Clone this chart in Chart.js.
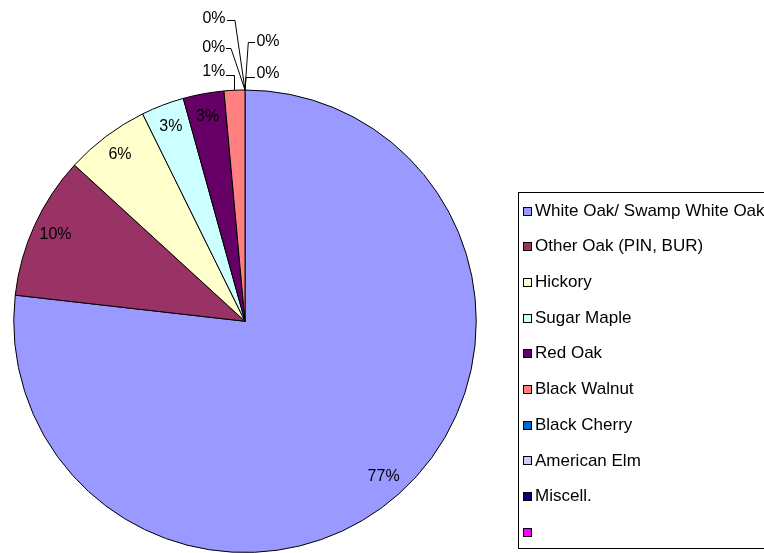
<!DOCTYPE html>
<html>
<head>
<meta charset="utf-8">
<script src="https://cdn.jsdelivr.net/npm/chart.js@4/dist/chart.umd.min.js"></script>
<style>
  body { margin: 0; background: #fff; }
  canvas { display: block; }
</style>
</head>
<body>
<canvas id="tree_chart" width="764" height="553"></canvas>
<script>
// species and their share of the count (%)
const species = [
  "White Oak/ Swamp White Oak",
  "Other Oak (PIN, BUR)",
  "Hickory",
  "Sugar Maple",
  "Red Oak",
  "Black Walnut",
  "Black Cherry",
  "American Elm",
  "Miscell.",
  ""
];
const shares = [76.8, 10.0, 5.9, 3.0, 2.85, 1.45, 0, 0, 0, 0];
const colors = ["#9999FF", "#993366", "#FFFFCC", "#CCFFFF", "#660066", "#FF8080", "#0066CC", "#CCCCFF", "#000080", "#FF00FF"];

// where the small labels sit, relative to the edge of their slice (tx/ty text centre, ex/ey elbow)
const leaderSpots = [
  null, null, null, null, null,
  { tx: -20.7, ty: -18.5, ex: 0, ey: -15.5 },
  { tx: 23, ty: -16.5, ex: 1, ey: -13.5 },
  { tx: 23, ty: -48.5, ex: 3.3, ey: -48.3 },
  { tx: -31.3, ty: -42, ex: -14, ey: -41.7 },
  { tx: -31, ty: -71.5, ex: -10, ey: -70 }
];

const fontFamily = "'Liberation Sans', Arial, sans-serif";

const percentLabels = {
  id: "percentLabels",
  afterDatasetsDraw(chart) {
    const ctx = chart.ctx;
    const meta = chart.getDatasetMeta(0);
    const total = shares.reduce((a, b) => a + b, 0);
    ctx.save();
    ctx.font = "16px " + fontFamily;
    ctx.fillStyle = "#000";
    ctx.strokeStyle = "#000";
    ctx.lineWidth = 1;
    ctx.textBaseline = "middle";
    ctx.textAlign = "center";
    meta.data.forEach((arc, i) => {
      const p = arc.getProps(["x", "y", "startAngle", "endAngle", "outerRadius"], true);
      const mid = (p.startAngle + p.endAngle) / 2;
      const text = Math.round((shares[i] / total) * 100) + "%";
      const spot = leaderSpots[i];
      if (!spot) {
        const r = p.outerRadius * 0.9;
        ctx.fillText(text, p.x + r * Math.cos(mid), p.y + r * Math.sin(mid));
        return;
      }
      const ax = p.x + p.outerRadius * Math.cos(mid);
      const ay = p.y + p.outerRadius * Math.sin(mid);
      const w = ctx.measureText(text).width;
      const tx = ax + spot.tx;
      const ty = ay + spot.ty;
      const edge = spot.tx < 0 ? tx + w / 2 + 1 : tx - w / 2 - 1;
      ctx.beginPath();
      ctx.moveTo(Math.round(edge), Math.round(ay + spot.ey) + 0.5);
      ctx.lineTo(ax + spot.ex, Math.round(ay + spot.ey) + 0.5);
      ctx.lineTo(ax, ay);
      ctx.stroke();
      ctx.fillText(text, tx, ty);
    });
    ctx.restore();
  }
};

const boxedLegend = {
  id: "boxedLegend",
  afterDraw(chart) {
    const ctx = chart.ctx;
    ctx.save();
    ctx.strokeStyle = "#000";
    ctx.lineWidth = 1;
    ctx.strokeRect(518.5, 192.5, 300, 356);
    ctx.font = "17px " + fontFamily;
    ctx.textBaseline = "middle";
    ctx.textAlign = "left";
    species.forEach((name, i) => {
      const y = 210.5 + i * 35.7;
      ctx.fillStyle = colors[i];
      ctx.fillRect(523.5, Math.round(y - 4) + 0.5, 8, 8);
      ctx.strokeRect(523.5, Math.round(y - 4) + 0.5, 8, 8);
      ctx.fillStyle = "#000";
      ctx.fillText(name, 535, y + 0.5);
    });
    ctx.restore();
  }
};

const ctx = document.getElementById("tree_chart");

new Chart(ctx, {
  type: "pie",
  data: {
    labels: species,
    datasets: [
      {
        data: shares,
        backgroundColor: colors,
        borderColor: "#000",
        borderWidth: 1,
      },
    ],
  },
  options: {
    responsive: false,
    animation: false,
    layout: {
      padding: { left: 12.5, top: 89.5, right: 286.5, bottom: -1.5 },
    },
    plugins: {
      legend: false,
      tooltip: { enabled: false },
    },
  },
  plugins: [percentLabels, boxedLegend],
});
</script>
</body>
</html>
